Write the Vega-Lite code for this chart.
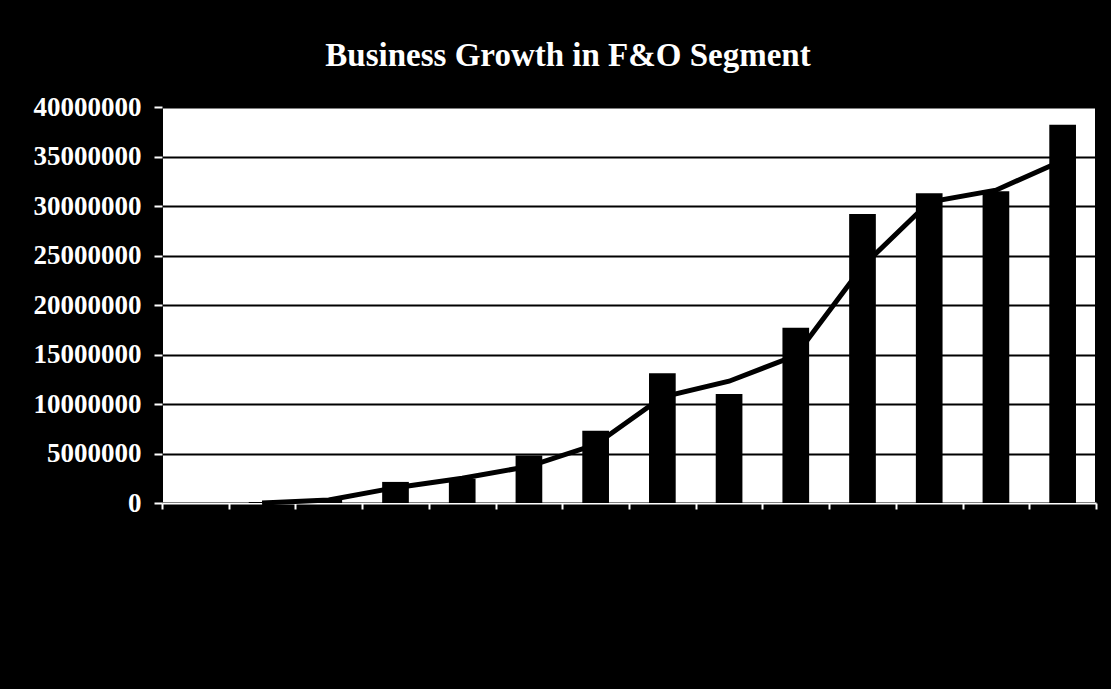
{
  "$schema": "https://vega.github.io/schema/vega-lite/v6.json",
  "width": 934,
  "height": 396,
  "autosize": {"type": "none"},
  "padding": {"left": 162, "top": 107, "right": 15, "bottom": 186},
  "background": "black",
  "config": {
    "view": {"fill": "white", "stroke": "black", "strokeWidth": 2}
  },
  "title": {
    "text": "Business Growth in F&O Segment",
    "color": "white",
    "font": "Liberation Serif",
    "fontSize": 33,
    "fontWeight": "bold",
    "anchor": "middle",
    "dx": -61,
    "offset": 20
  },
  "data": {
    "values": [
      {"year": "2000-01", "turnover": 2400, "trend": null},
      {"year": "2001-02", "turnover": 100000, "trend": 0},
      {"year": "2002-03", "turnover": 440000, "trend": 300000},
      {"year": "2003-04", "turnover": 2130000, "trend": 1550000},
      {"year": "2004-05", "turnover": 2450000, "trend": 2500000},
      {"year": "2005-06", "turnover": 4800000, "trend": 3700000},
      {"year": "2006-07", "turnover": 7300000, "trend": 5900000},
      {"year": "2007-08", "turnover": 13100000, "trend": 10700000},
      {"year": "2008-09", "turnover": 11000000, "trend": 12300000},
      {"year": "2009-10", "turnover": 17700000, "trend": 14900000},
      {"year": "2010-11", "turnover": 29200000, "trend": 23900000},
      {"year": "2011-12", "turnover": 31300000, "trend": 30400000},
      {"year": "2012-13", "turnover": 31500000, "trend": 31600000},
      {"year": "2013-14", "turnover": 38200000, "trend": 34600000}
    ]
  },
  "encoding": {
    "x": {
      "field": "year",
      "type": "ordinal",
      "sort": null,
      "scale": {"paddingInner": 0, "paddingOuter": 0},
      "axis": {
        "title": null,
        "tickBand": "extent",
        "domainColor": "white",
        "domainWidth": 2,
        "tickColor": "white",
        "tickWidth": 2,
        "tickSize": 6,
        "labelColor": "black",
        "labelAngle": -45,
        "labelFont": "Liberation Serif",
        "labelFontSize": 14
      }
    }
  },
  "layer": [
    {
      "mark": {"type": "bar", "color": "black", "width": {"band": 0.4}},
      "encoding": {
        "y": {
          "field": "turnover",
          "type": "quantitative",
          "scale": {"domain": [0, 40000000], "nice": false},
          "axis": {
            "title": null,
            "values": [0, 5000000, 10000000, 15000000, 20000000, 25000000, 30000000, 35000000, 40000000],
            "format": "d",
            "labelColor": "white",
            "labelFont": "Liberation Serif",
            "labelFontWeight": "bold",
            "labelFontSize": 27,
            "labelPadding": 13,
            "tickColor": "white",
            "tickWidth": 2,
            "tickSize": 8,
            "domain": false,
            "grid": true,
            "gridColor": "black",
            "gridWidth": 2,
            "labelFlush": false
          }
        }
      }
    },
    {
      "mark": {"type": "line", "color": "black", "strokeWidth": 5},
      "encoding": {
        "y": {"field": "trend", "type": "quantitative"}
      }
    }
  ]
}
